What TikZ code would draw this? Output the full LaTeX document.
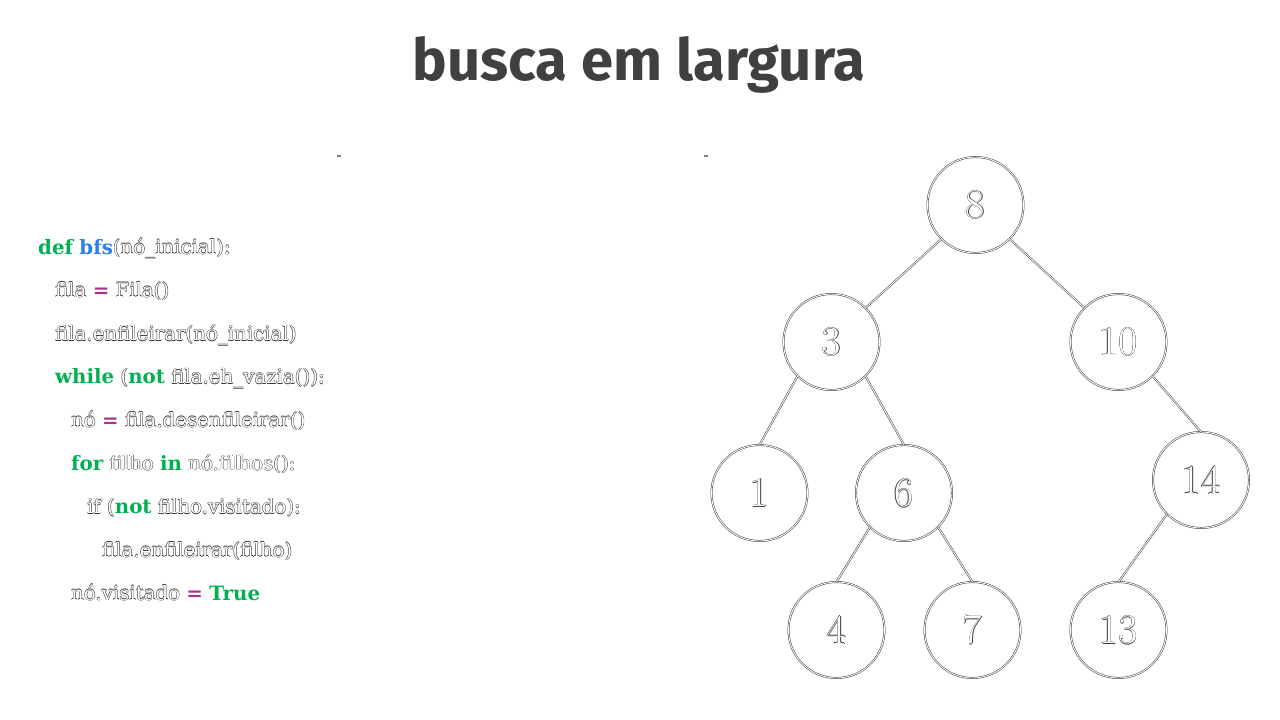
\documentclass[tikz,border=0pt]{standalone}
\usepackage{fontspec}
\newfontfamily\codefont{DejaVu Serif}
\newfontfamily\titlefont{Fira Sans}
\definecolor{kwc}{HTML}{00B050}
\definecolor{fnc}{HTML}{2B7FE6}
\definecolor{opc}{HTML}{A0358C}
\definecolor{titlec}{HTML}{404040}
\definecolor{olc}{HTML}{3A3A3A}
\newcommand\otx[1]{\leavevmode
  \rlap{\hspace{-0.45pt}\textcolor{olc}{#1}}%
  \rlap{\hspace{0.45pt}\textcolor{olc}{#1}}%
  \rlap{\raisebox{0.45pt}{\textcolor{olc}{#1}}}%
  \rlap{\raisebox{-0.45pt}{\textcolor{olc}{#1}}}%
  \textcolor{white}{#1}}
\newcommand\kwd[1]{{\bfseries\color{kwc}#1}}
\newcommand\fnm[1]{{\bfseries\color{fnc}#1}}
\newcommand\opr[1]{{\bfseries\color{opc}#1}}
\tikzset{
  codeline/.style={anchor=base west, inner sep=0pt, font=\codefont\fontsize{19.8}{22}\selectfont},
  treenode/.style={circle, minimum size=96pt, inner sep=0pt, outer sep=0pt,
    draw=olc, line width=0.5pt, double=white, double distance=0.9pt,
    font=\fontsize{42}{44}\selectfont},
  treeedge/.style={draw=olc, line width=0.5pt, double=white, double distance=0.9pt},
  tick/.style={draw=gray, line width=1.3pt}
}
\begin{document}
\begin{tikzpicture}[x=1pt,y=-1pt]
\useasboundingbox (0,0) rectangle (1280,720);
% title
\node[anchor=base, inner sep=0pt, text=titlec, font=\titlefont\bfseries\fontsize{58}{60}\selectfont] (title) at (639,80) {busca em largura};
% tiny marks
\coordinate (ta) at (336.5,156); \coordinate (tb) at (340.5,156);
\coordinate (tc) at (703.5,156); \coordinate (td) at (707.5,156);
\draw[tick] (ta) -- (tb);
\draw[tick] (tc) -- (td);
% code
\node[codeline] (c1) at (38,254) {\kwd{def} \fnm{bfs}\otx{(nó\_inicial):}};
\node[codeline] (c2) at (55,297.3) {\otx{fila} \opr{=} \otx{Fila()}};
\node[codeline] (c3) at (55,340.6) {\otx{fila.enfileirar(nó\_inicial)}};
\node[codeline] (c4) at (55,383.9) {\kwd{while} \otx{(}\kwd{not} \otx{fila.eh\_vazia()):}};
\node[codeline] (c5) at (71,427.2) {\otx{nó} \opr{=} \otx{fila.desenfileirar()}};
\node[codeline] (c6) at (71,470.5) {\kwd{for} \otx{filho} \kwd{in} \otx{nó.filhos():}};
\node[codeline] (c7) at (87,513.8) {\otx{if (}\kwd{not} \otx{filho.visitado):}};
\node[codeline] (c8) at (102,557.1) {\otx{fila.enfileirar(filho)}};
\node[codeline] (c9) at (71,600.4) {\otx{nó.visitado} \opr{=} \kwd{True}};
% tree
\node[treenode] (n8) at (975.5,205) {\otx{8}};
\node[treenode] (n3) at (831.5,342) {\otx{3}};
\node[treenode] (n10) at (1118.5,342) {\otx{10}};
\node[treenode] (n1) at (759.5,493) {\otx{1}};
\node[treenode] (n6) at (904,493) {\otx{6}};
\node[treenode] (n14) at (1201,480) {\otx{14}};
\node[treenode] (n4) at (836.5,630) {\otx{4}};
\node[treenode] (n7) at (972.5,630) {\otx{7}};
\node[treenode] (n13) at (1118.5,630) {\otx{13}};
\draw[treeedge] (n8.south west) -- (n3.north east);
\draw[treeedge] (n8.south east) -- (n10.north west);
\draw[treeedge] (n3.south west) -- (n1.north);
\draw[treeedge] (n3.south east) -- (n6.north);
\draw[treeedge] (n10.south east) -- (n14.north);
\draw[treeedge] (n6.south west) -- (n4.north);
\draw[treeedge] (n6.south east) -- (n7.north);
\draw[treeedge] (n14.south west) -- (n13.north);
\end{tikzpicture}
\end{document}
